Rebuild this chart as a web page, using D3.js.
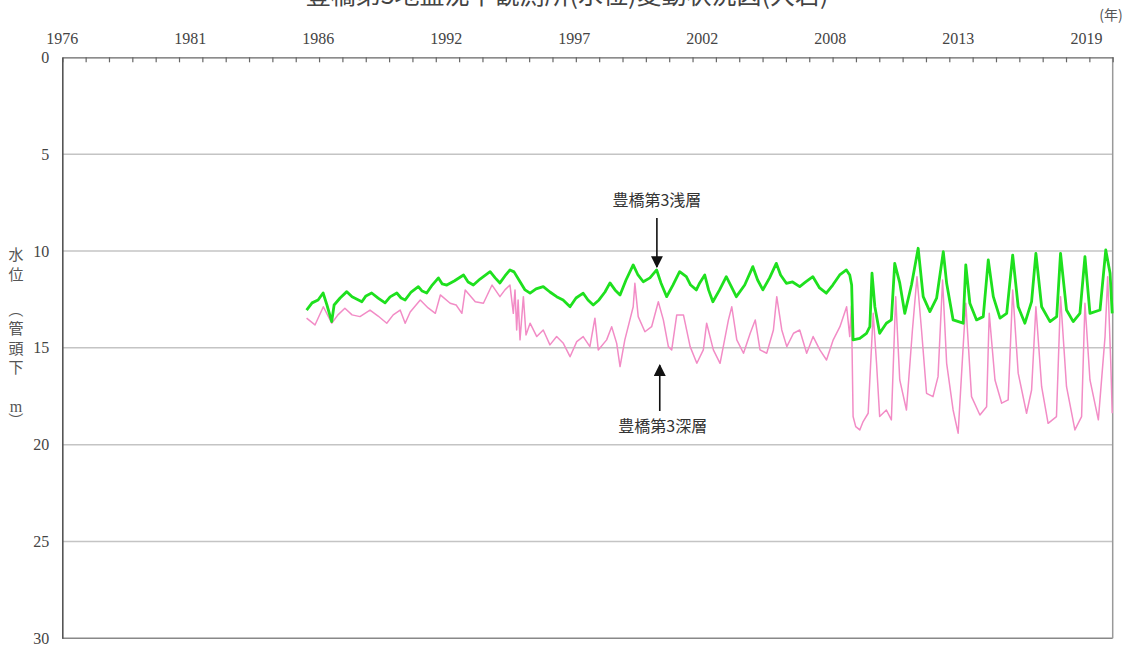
<!DOCTYPE html>
<html><head><meta charset="utf-8">
<script src="https://cdn.jsdelivr.net/npm/d3@7"></script>
<style>
html,body{margin:0;padding:0;background:#fff;}
svg{display:block;}
</style></head>
<body>
<svg id="chart" width="1134" height="650"></svg>
<script>
// ---------- data ----------
const titleText = "豊橋第3地盤沈下観測所(水位)変動状況図(大岩)";
const yTicks = [0, 5, 10, 15, 20, 25, 30];
const xLabelText = ["1976", "1981", "1986", "1992", "1997", "2002", "2008", "2013", "2019"];
const xLabelAt = [1976.2, 1981.55, 1986.9, 1992.25, 1997.6, 2002.95, 2008.3, 2013.65, 2019.0];
const xDomain = [1976.2, 2020.1];
const minorTickCount = 45;
const shallowName = "豊橋第3浅層";
const deepName = "豊橋第3深層";
const shallowArrowAt = [2001.05, 10.98];
const deepArrowAt = [2001.17, 15.9];

// 浅層 (decimal year, depth m)
const shallowYear = [1986.41,1986.64,1986.89,1987.10,1987.26,1987.46,1987.56,1987.81,1988.09,1988.31,1988.72,1988.89,1989.13,1989.40,1989.69,1989.90,1990.18,1990.36,1990.53,1990.78,1991.08,1991.24,1991.43,1991.66,1991.92,1992.08,1992.27,1992.58,1992.97,1993.16,1993.38,1993.66,1994.08,1994.29,1994.49,1994.70,1994.91,1995.08,1995.33,1995.54,1995.75,1996.00,1996.30,1996.58,1996.86,1997.13,1997.42,1997.67,1997.97,1998.17,1998.39,1998.63,1998.88,1999.09,1999.30,1999.51,1999.76,2000.06,2000.26,2000.48,2000.76,2001.04,2001.22,2001.46,2001.72,2002.00,2002.28,2002.46,2002.70,2002.84,2003.05,2003.21,2003.39,2003.67,2003.95,2004.13,2004.37,2004.72,2005.06,2005.26,2005.48,2005.76,2006.04,2006.22,2006.46,2006.72,2007.02,2007.27,2007.57,2007.85,2008.13,2008.40,2008.69,2008.97,2009.11,2009.19,2009.25,2009.53,2009.81,2009.95,2010.04,2010.16,2010.36,2010.64,2010.85,2010.99,2011.20,2011.41,2011.69,2011.97,2012.18,2012.46,2012.74,2013.02,2013.16,2013.43,2013.85,2013.96,2014.13,2014.41,2014.69,2014.90,2015.11,2015.39,2015.67,2015.92,2016.15,2016.43,2016.71,2016.89,2017.13,2017.48,2017.76,2017.92,2018.17,2018.45,2018.73,2018.94,2019.15,2019.57,2019.81,2019.99,2020.08];
const shallowDepth = [13.05,12.68,12.53,12.17,12.79,13.65,12.79,12.43,12.10,12.37,12.62,12.32,12.17,12.43,12.68,12.37,12.17,12.43,12.53,12.12,11.84,12.07,12.17,11.76,11.39,11.70,11.76,11.55,11.24,11.60,11.76,11.45,11.07,11.39,11.65,11.29,10.98,11.08,11.59,12.01,12.18,11.96,11.84,12.12,12.36,12.53,12.88,12.43,12.18,12.53,12.79,12.53,12.12,11.65,12.01,12.27,11.50,10.72,11.24,11.59,11.39,10.98,11.65,12.36,11.76,11.07,11.33,11.76,12.01,11.65,11.24,12.01,12.62,12.01,11.33,11.76,12.36,11.76,10.81,11.50,12.01,11.39,10.64,11.24,11.67,11.60,11.84,11.60,11.33,11.91,12.18,11.76,11.24,10.98,11.24,11.76,14.59,14.51,14.25,13.91,11.15,12.88,14.25,13.73,13.56,10.64,11.65,13.22,11.76,9.86,12.36,13.13,12.44,10.04,11.67,13.56,13.73,10.72,12.70,13.56,13.39,10.46,12.36,13.47,13.22,10.21,12.88,13.73,12.62,10.12,12.88,13.65,13.39,10.12,13.05,13.65,13.22,10.29,13.22,13.05,9.95,11.15,13.22];

// 深層 (decimal year, depth m)
const deepYear = [1986.41,1986.76,1987.11,1987.46,1987.72,1988.01,1988.31,1988.64,1989.06,1989.40,1989.76,1990.03,1990.32,1990.53,1990.74,1991.16,1991.49,1991.79,1992.00,1992.41,1992.66,1992.90,1993.04,1993.46,1993.80,1994.16,1994.49,1994.70,1994.91,1995.05,1995.12,1995.19,1995.25,1995.33,1995.47,1995.58,1995.75,1996.03,1996.30,1996.58,1996.86,1997.14,1997.42,1997.70,1997.97,1998.25,1998.46,1998.60,1998.95,1999.16,1999.37,1999.51,1999.71,2000.06,2000.13,2000.27,2000.55,2000.83,2001.11,2001.32,2001.53,2001.67,2001.88,2002.16,2002.44,2002.72,2002.99,2003.13,2003.41,2003.69,2004.04,2004.18,2004.39,2004.67,2004.95,2005.16,2005.36,2005.64,2005.92,2006.06,2006.27,2006.48,2006.76,2007.02,2007.31,2007.58,2007.86,2008.14,2008.42,2008.70,2008.98,2009.11,2009.18,2009.25,2009.36,2009.53,2009.67,2009.88,2010.09,2010.23,2010.36,2010.64,2010.85,2011.03,2011.20,2011.48,2011.73,2011.92,2012.11,2012.32,2012.59,2012.80,2012.99,2013.16,2013.43,2013.64,2013.85,2013.96,2014.20,2014.55,2014.83,2014.94,2015.18,2015.46,2015.73,2015.92,2016.15,2016.50,2016.71,2016.89,2017.13,2017.40,2017.75,2017.92,2018.17,2018.52,2018.80,2018.94,2019.15,2019.50,2019.78,2019.89,2020.02,2020.08];
const deepDepth = [13.47,13.82,12.88,13.73,13.30,12.96,13.30,13.39,13.05,13.36,13.73,13.30,13.05,13.73,13.15,12.53,12.94,13.22,12.27,12.70,12.79,13.22,12.01,12.62,12.70,11.76,12.36,12.01,11.76,13.22,12.01,14.08,12.53,14.59,12.36,14.34,13.73,14.42,14.08,14.85,14.42,14.77,15.46,14.68,14.42,14.94,13.47,15.11,14.59,13.91,14.77,15.97,14.59,12.88,11.67,13.39,14.17,13.91,12.62,13.56,14.94,15.11,13.30,13.30,14.94,15.80,15.11,13.73,15.11,15.80,13.56,12.88,14.59,15.28,14.25,13.56,15.11,15.28,14.08,12.36,14.08,14.94,14.25,14.08,15.28,14.42,15.11,15.63,14.59,13.91,12.88,14.42,12.84,18.55,19.07,19.24,18.81,18.38,13.22,15.80,18.55,18.21,18.72,12.36,16.66,18.21,14.08,11.33,14.08,17.35,17.52,16.49,11.50,15.80,18.21,19.41,14.94,12.70,17.52,18.47,18.04,13.22,16.66,17.86,17.69,12.01,16.31,18.38,17.18,12.88,17.01,18.90,18.55,12.36,17.01,19.24,18.55,12.70,16.66,18.72,14.42,11.33,15.80,18.38];

// ---------- drawing ----------
const svg = d3.select("#chart");
const plot = {left: 62.3, right: 1112.7, top: 57.3, bottom: 638.3};

const x = d3.scaleLinear().domain(xDomain).range([plot.left, plot.right]);
const y = d3.scaleLinear().domain([0, 30]).range([plot.top, plot.bottom]);

const serif = "'Liberation Serif','DejaVu Serif','Noto Sans CJK JP',serif";
const cjk = "'Noto Sans CJK JP','Noto Sans',sans-serif";

// title (partially cut off at the top as in reference)
svg.append("text")
  .attr("x", 567).attr("y", 4)
  .attr("text-anchor", "middle")
  .attr("font-family", cjk)
  .attr("font-size", 25)
  .attr("fill", "#444")
  .text(titleText);

// (年)
svg.append("text")
  .attr("x", 1111).attr("y", 20)
  .attr("text-anchor", "middle")
  .attr("font-family", cjk)
  .attr("font-size", 14)
  .attr("fill", "#555")
  .text("(年)");

// gridlines
svg.append("g")
  .selectAll("line")
  .data(yTicks.filter(d => d > 0 && d < 30))
  .join("line")
  .attr("x1", plot.left).attr("x2", plot.right)
  .attr("y1", d => y(d)).attr("y2", d => y(d))
  .attr("stroke", "#c4c4c4").attr("stroke-width", 1.5);

// bottom line (30)
svg.append("line")
  .attr("x1", plot.left).attr("x2", plot.right)
  .attr("y1", y(30)).attr("y2", y(30))
  .attr("stroke", "#888").attr("stroke-width", 1.5);

// right line
svg.append("line")
  .attr("x1", plot.right).attr("x2", plot.right)
  .attr("y1", y(0)).attr("y2", y(30))
  .attr("stroke", "#999").attr("stroke-width", 1.5);

// top axis with minor ticks pointing down
const step = (xDomain[1] - xDomain[0]) / minorTickCount;
const minorTicks = d3.range(minorTickCount + 1).map(i => xDomain[0] + i * step);
const topAxis = svg.append("g")
  .attr("transform", `translate(0,${plot.top})`)
  .call(d3.axisBottom(x).tickValues(minorTicks).tickSize(5).tickSizeOuter(0).tickFormat(""));
topAxis.select(".domain").attr("stroke", "#666").attr("stroke-width", 1.3);
topAxis.selectAll(".tick line").attr("stroke", "#666").attr("stroke-width", 1.2);

// year labels
svg.append("g")
  .selectAll("text")
  .data(xLabelText)
  .join("text")
  .attr("x", (d, i) => x(xLabelAt[i]))
  .attr("y", 44)
  .attr("text-anchor", "middle")
  .attr("font-family", serif)
  .attr("font-size", 16)
  .attr("fill", "#444")
  .text(d => d);

// left axis
const leftAxis = svg.append("g")
  .attr("transform", `translate(${plot.left},0)`)
  .call(d3.axisLeft(y).tickValues(yTicks).tickSize(0).tickPadding(13).tickFormat(d3.format("d")));
leftAxis.select(".domain").attr("stroke", "#555").attr("stroke-width", 1.6);
leftAxis.selectAll("text")
  .attr("font-family", serif)
  .attr("font-size", 16)
  .attr("fill", "#444");

// y axis title (vertical)
const yTitle = [
  {c: "水", y: 253, r: 0}, {c: "位", y: 273, r: 0},
  {c: "（", y: 310, r: 90}, {c: "管", y: 327, r: 0}, {c: "頭", y: 347, r: 0}, {c: "下", y: 366, r: 0},
  {c: "m", y: 406, r: 0}, {c: "）", y: 420, r: 90}
];
svg.append("g")
  .selectAll("text")
  .data(yTitle)
  .join("text")
  .attr("transform", d => `translate(16,${d.y}) rotate(${d.r})`)
  .attr("text-anchor", "middle")
  .attr("dominant-baseline", "central")
  .attr("font-family", d => d.c === "m" ? serif : cjk)
  .attr("font-size", d => d.c === "m" ? 16 : 15)
  .attr("fill", "#555")
  .text(d => d.c);

// series
const line = d3.line().x(d => x(d[0])).y(d => y(d[1]));
const deep = deepYear.map((t, i) => [t, deepDepth[i]]);
const shallow = shallowYear.map((t, i) => [t, shallowDepth[i]]);

svg.append("path")
  .datum(deep)
  .attr("d", line)
  .attr("fill", "none")
  .attr("stroke", "#f28cc6")
  .attr("stroke-width", 1.5)
  .attr("stroke-linejoin", "round");

svg.append("path")
  .datum(shallow)
  .attr("d", line)
  .attr("fill", "none")
  .attr("stroke", "#1ee01e")
  .attr("stroke-width", 2.8)
  .attr("stroke-linejoin", "round");

// annotations
svg.append("defs").append("marker")
  .attr("id", "arrow")
  .attr("viewBox", "0 0 10 10")
  .attr("refX", 9).attr("refY", 5)
  .attr("markerWidth", 12).attr("markerHeight", 12)
  .attr("markerUnits", "userSpaceOnUse")
  .attr("orient", "auto")
  .append("path")
  .attr("d", "M0,0 L10,5 L0,10 Z")
  .attr("fill", "#111");

svg.append("text")
  .attr("x", x(shallowArrowAt[0])).attr("y", 206)
  .attr("text-anchor", "middle")
  .attr("font-family", cjk)
  .attr("font-size", 16)
  .attr("fill", "#333")
  .text(shallowName);
svg.append("line")
  .attr("x1", x(shallowArrowAt[0])).attr("x2", x(shallowArrowAt[0]))
  .attr("y1", 218).attr("y2", y(shallowArrowAt[1]) - 3)
  .attr("stroke", "#111").attr("stroke-width", 1.6)
  .attr("marker-end", "url(#arrow)");

svg.append("text")
  .attr("x", x(deepArrowAt[0]) + 3).attr("y", 432)
  .attr("text-anchor", "middle")
  .attr("font-family", cjk)
  .attr("font-size", 16)
  .attr("fill", "#333")
  .text(deepName);
svg.append("line")
  .attr("x1", x(deepArrowAt[0])).attr("x2", x(deepArrowAt[0]))
  .attr("y1", 411).attr("y2", y(deepArrowAt[1]))
  .attr("stroke", "#111").attr("stroke-width", 1.6)
  .attr("marker-end", "url(#arrow)");
</script>
</body></html>
